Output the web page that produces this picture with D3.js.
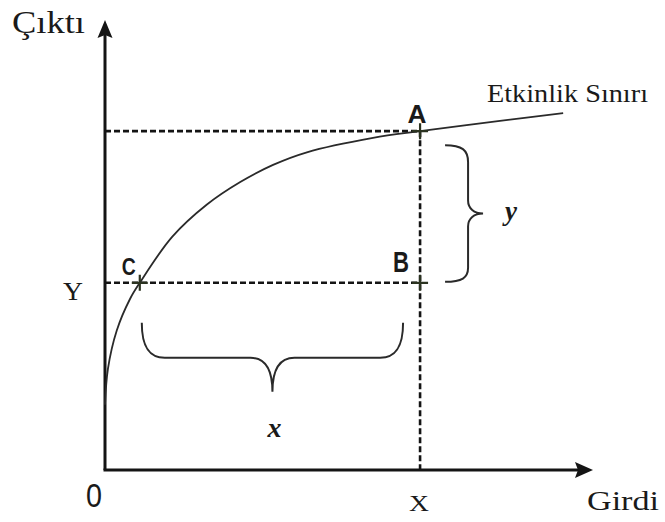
<!DOCTYPE html>
<html>
<head>
<meta charset="utf-8">
<script src="https://cdn.jsdelivr.net/npm/d3@7"></script>
<style>
  body { margin: 0; background: #fff; }
  .serif { font-family: "Liberation Serif", "Times New Roman", serif; fill: #1a1a1a; }
  .sans { font-family: "Liberation Sans", Arial, sans-serif; fill: #1a1a1a; }
</style>
</head>
<body>
<script>
/*
 * Efficiency frontier diagram (Etkinlik Sınırı).
 */

const WIDTH = 665;
const HEIGHT = 522;

// frontier curve (input, output)
const curveX = [0, 0.6, 2.4, 5.1, 7.1, 13.7, 20.8, 27.6, 34.3, 41.2, 54.7, 64.3, 80.6, 93.5];
const curveY = [14.5, 22.5, 31.0, 38.0, 41.6, 51.8, 59.0, 64.0, 67.8, 70.6, 73.8, 75.3, 77.6, 79.3];

// labelled points
const pointNames = ['A', 'B', 'C'];
const pointX = [64.3, 64.3, 7.1];
const pointY = [75.3, 41.6, 41.6];

// axis texts
const axisNames = ['Girdi', 'Çıktı'];
const tickLabels = ['0', 'X', 'Y'];
const braceLabels = ['x', 'y'];
const curveLabel = 'Etkinlik Sınırı';

const x = d3.scaleLinear().domain([0, 100]).range([105, 595]);
const y = d3.scaleLinear().domain([0, 100]).range([470, 20]);

const svg = d3.select('body')
  .append('svg')
    .attr('width', WIDTH)
    .attr('height', HEIGHT);

const ink = '#141414';

/*
 * Axes with arrow heads.
 */

svg.append('line')
    .attr('x1', x(0)).attr('y1', y(0))
    .attr('x2', x(0)).attr('y2', y(100) + 14)
    .attr('stroke', ink).attr('stroke-width', 3);

svg.append('line')
    .attr('x1', x(0) - 1.5).attr('y1', y(0))
    .attr('x2', x(100) - 16).attr('y2', y(0))
    .attr('stroke', ink).attr('stroke-width', 3);

// y arrow
svg.append('path')
    .attr('d', `M${x(0)},${y(100)} L${x(0) + 7.5},${y(100) + 18} L${x(0)},${y(100) + 15} L${x(0) - 7.5},${y(100) + 18} Z`)
    .attr('fill', ink);

// x arrow
svg.append('path')
    .attr('d', `M${x(100) - 2},${y(0)} L${x(100) - 20},${y(0) - 8} L${x(100) - 17},${y(0)} L${x(100) - 20},${y(0) + 8} Z`)
    .attr('fill', ink);

/*
 * Dashed guide lines.
 */

const guides = [
  [0, pointY[0], pointX[0], pointY[0]],
  [0, pointY[1], pointX[1], pointY[1]],
  [pointX[0], pointY[0], pointX[0], 0]
];

svg.selectAll('.guide')
  .data(guides)
  .enter()
  .append('line')
    .attr('class', 'guide')
    .attr('x1', d => x(d[0]))
    .attr('y1', d => y(d[1]))
    .attr('x2', d => x(d[2]))
    .attr('y2', d => y(d[3]))
    .attr('stroke', ink)
    .attr('stroke-width', 2.6)
    .attr('stroke-dasharray', '6,3');

/*
 * Frontier curve.
 */

const line = d3.line()
    .x(d => x(d[0]))
    .y(d => y(d[1]))
    .curve(d3.curveCatmullRom.alpha(0.5));

svg.append('path')
    .datum(d3.zip(curveX, curveY))
    .attr('d', line)
    .attr('fill', 'none')
    .attr('stroke', '#2a2a2a')
    .attr('stroke-width', 1.8);

/*
 * Point markers and letters.
 */

const pts = pointNames.map((name, i) => ({name, px: x(pointX[i]), py: y(pointY[i])}));

svg.selectAll('.mark')
  .data(pts)
  .enter()
  .append('path')
    .attr('class', 'mark')
    .attr('d', d => `M${d.px - 8},${d.py} H${d.px + 8} M${d.px},${d.py - 8} V${d.py + 8}`)
    .attr('stroke', '#2b3320')
    .attr('stroke-width', 2.2);

const letterPos = {
  A: {dx: -3, dy: -8, size: 25, len: 19},
  B: {dx: -19, dy: -11, size: 29, len: 16},
  C: {dx: -11, dy: -8, size: 24, len: 14}
};

svg.selectAll('.letter')
  .data(pts)
  .enter()
  .append('text')
    .attr('class', 'sans letter')
    .attr('x', d => d.px + letterPos[d.name].dx)
    .attr('y', d => d.py + letterPos[d.name].dy)
    .attr('text-anchor', 'middle')
    .attr('font-weight', 'bold')
    .attr('font-size', d => letterPos[d.name].size)
    .attr('textLength', d => letterPos[d.name].len)
    .attr('lengthAdjust', 'spacingAndGlyphs')
    .text(d => d.name);

/*
 * Braces.
 */

// y brace, right of the vertical gap between A and B
const bx = x(pointX[0]) + 25;
const by1 = y(pointY[0]) + 14;
const by2 = y(pointY[1]) - 1;
const bym = (by1 + by2) / 2;
svg.append('path')
    .attr('d', `M${bx},${by1} C${bx + 17},${by1} ${bx + 23},${by1 + 5} ${bx + 23},${by1 + 17}` +
               ` L${bx + 23},${bym - 13} C${bx + 23},${bym - 5} ${bx + 29},${bym} ${bx + 38},${bym}` +
               ` C${bx + 29},${bym} ${bx + 23},${bym + 5} ${bx + 23},${bym + 13}` +
               ` L${bx + 23},${by2 - 14} C${bx + 23},${by2 - 4} ${bx + 17},${by2} ${bx},${by2}`)
    .attr('fill', 'none')
    .attr('stroke', '#2a2a2a')
    .attr('stroke-width', 2);

// x brace, below the horizontal gap between C and B
const cx1 = x(pointX[2]) + 2;
const cx2 = x(pointX[1]) - 17;
const cy = y(pointY[2]) + 40;
const cxm = (cx1 + cx2) / 2;
svg.append('path')
    .attr('d', `M${cx1},${cy} C${cx1},${cy + 22} ${cx1 + 6},${cy + 35} ${cx1 + 23},${cy + 35}` +
               ` L${cxm - 22},${cy + 35} C${cxm - 10},${cy + 35} ${cxm},${cy + 42} ${cxm},${cy + 69}` +
               ` C${cxm},${cy + 42} ${cxm + 10},${cy + 35} ${cxm + 22},${cy + 35}` +
               ` L${cx2 - 23},${cy + 35} C${cx2 - 6},${cy + 35} ${cx2},${cy + 22} ${cx2},${cy}`)
    .attr('fill', 'none')
    .attr('stroke', '#2a2a2a')
    .attr('stroke-width', 2);

/*
 * Texts.
 */

// axis names
svg.append('text')
    .attr('class', 'serif')
    .attr('x', x(0) - 93).attr('y', 33)
    .attr('font-size', 31)
    .attr('textLength', 73).attr('lengthAdjust', 'spacingAndGlyphs')
    .text(axisNames[1]);

svg.append('text')
    .attr('class', 'serif')
    .attr('x', 587).attr('y', 510)
    .attr('font-size', 28)
    .attr('textLength', 72).attr('lengthAdjust', 'spacingAndGlyphs')
    .text(axisNames[0]);

// origin, X and Y
svg.append('text')
    .attr('class', 'sans')
    .attr('x', x(0) - 11).attr('y', 507)
    .attr('text-anchor', 'middle')
    .attr('font-size', 33)
    .attr('textLength', 16).attr('lengthAdjust', 'spacingAndGlyphs')
    .text(tickLabels[0]);

svg.append('text')
    .attr('class', 'serif')
    .attr('x', x(pointX[0]) - 1).attr('y', 511)
    .attr('text-anchor', 'middle')
    .attr('font-size', 23)
    .attr('textLength', 20).attr('lengthAdjust', 'spacingAndGlyphs')
    .text(tickLabels[1]);

svg.append('text')
    .attr('class', 'serif')
    .attr('x', x(0) - 32).attr('y', y(pointY[1]) + 17)
    .attr('text-anchor', 'middle')
    .attr('font-size', 26)
    .attr('textLength', 20).attr('lengthAdjust', 'spacingAndGlyphs')
    .text(tickLabels[2]);

// frontier label
svg.append('text')
    .attr('class', 'serif')
    .attr('x', 487).attr('y', 102)
    .attr('font-size', 25)
    .attr('textLength', 161).attr('lengthAdjust', 'spacingAndGlyphs')
    .text(curveLabel);

// brace labels
svg.append('text')
    .attr('class', 'serif')
    .attr('x', cxm + 2).attr('y', 437)
    .attr('text-anchor', 'middle')
    .attr('font-size', 28)
    .attr('font-style', 'italic')
    .attr('font-weight', 'bold')
    .text(braceLabels[0]);

svg.append('text')
    .attr('class', 'serif')
    .attr('x', bx + 66).attr('y', bym + 7)
    .attr('text-anchor', 'middle')
    .attr('font-size', 27)
    .attr('font-style', 'italic')
    .attr('font-weight', 'bold')
    .text(braceLabels[1]);
</script>
</body>
</html>
